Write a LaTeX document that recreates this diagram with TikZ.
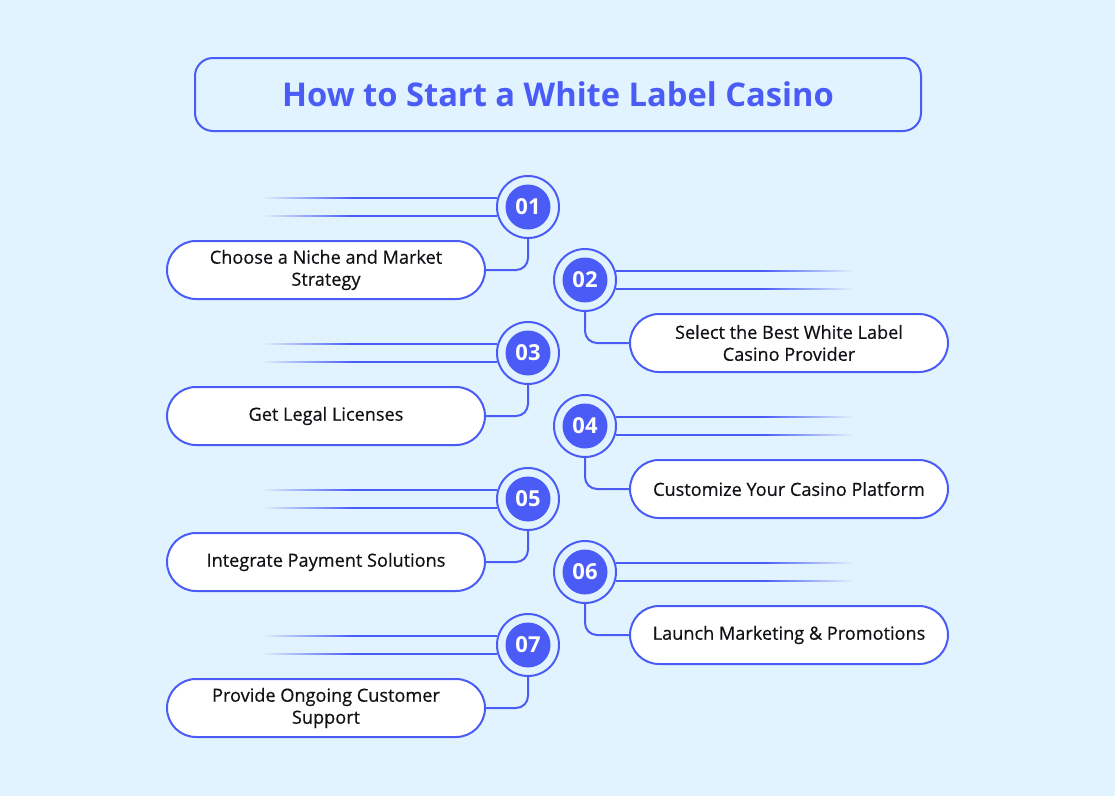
\documentclass[tikz,border=0pt]{standalone}
\usepackage{fontspec}
\setmainfont{Open Sans}
\newfontfamily\medfont{Open Sans}[FakeBold=0.5]
\usetikzlibrary{fadings}
\definecolor{bg}{RGB}{224,243,254}
\definecolor{brand}{RGB}{74,92,245}
\definecolor{ink}{RGB}{17,17,22}
\tikzfading[name=fadeout, left color=transparent!0, right color=transparent!100]
\tikzfading[name=fadein, left color=transparent!100, right color=transparent!0]
\begin{document}
\begin{tikzpicture}[x=0.75pt,y=-0.75pt,
  ring/.style={circle,draw=brand,line width=1.5pt,minimum size=46.5pt,inner sep=0pt},
  num/.style={circle,fill=brand,minimum size=33.75pt,inner sep=0pt,text=white,
    font=\fontsize{16.5}{16.5}\selectfont\bfseries},
  stepbox/.style={draw=brand,line width=1.5pt,fill=white,rounded corners=21.75pt,
    minimum width=238.5pt,minimum height=43.5pt,inner sep=0pt,align=center,text=ink,
    font=\medfont\fontsize{13.6}{16.5}\selectfont},
  titlebox/.style={draw=brand,line width=1.5pt,rounded corners=13.5pt,
    minimum width=544.5pt,minimum height=54.75pt,inner sep=0pt,text=brand,
    font=\fontsize{24.5}{30}\selectfont\bfseries},
  link/.style={draw=brand,line width=1.5pt,rounded corners=9pt},
  ray/.style={draw=brand,line width=1.5pt}]
\fill[bg] (0,0) rectangle (1115,796);
\useasboundingbox (0,0) rectangle (1115,796);

\node[titlebox] (title) at (558,94.5) {How to Start a White Label Casino};

% left items
\foreach \i/\k/\txt in {01/0/{Choose a Niche and Market\\Strategy},
                        03/2/{Get Legal Licenses},
                        05/4/{Integrate Payment Solutions},
                        07/6/{Provide Ongoing Customer\\Support}}{
  \pgfmathsetmacro\cy{207+73*\k}
  \node[ring] (c\i) at (528,\cy) {};
  \node[num] (n\i) at (c\i) {\i};
  \node[stepbox] (b\i) at (326,\cy+63) {\txt};
  \coordinate (fa\i) at (263,\cy);
  \draw[ray] (c\i.163) -- (c\i.163 -| fa\i);
  \draw[ray] (c\i.197) -- (c\i.197 -| fa\i);
  \fill[bg, path fading=fadeout] (262,\cy-14) rectangle (352,\cy+14);
  \draw[link] (c\i.south) |- (b\i.east);
}

% right items
\foreach \i/\k/\txt in {02/1/{Select the Best White Label\\Casino Provider},
                        04/3/{Customize Your Casino Platform},
                        06/5/{Launch Marketing \& Promotions}}{
  \pgfmathsetmacro\cy{207+73*\k}
  \node[ring] (c\i) at (585,\cy) {};
  \node[num] (n\i) at (c\i) {\i};
  \node[stepbox] (b\i) at (789,\cy+63) {\txt};
  \coordinate (fa\i) at (852,\cy);
  \draw[ray] (c\i.17) -- (c\i.17 -| fa\i);
  \draw[ray] (c\i.-17) -- (c\i.-17 -| fa\i);
  \fill[bg, path fading=fadein] (763,\cy-14) rectangle (853,\cy+14);
  \draw[link] (c\i.south) |- (b\i.west);
}
\end{tikzpicture}
\end{document}
